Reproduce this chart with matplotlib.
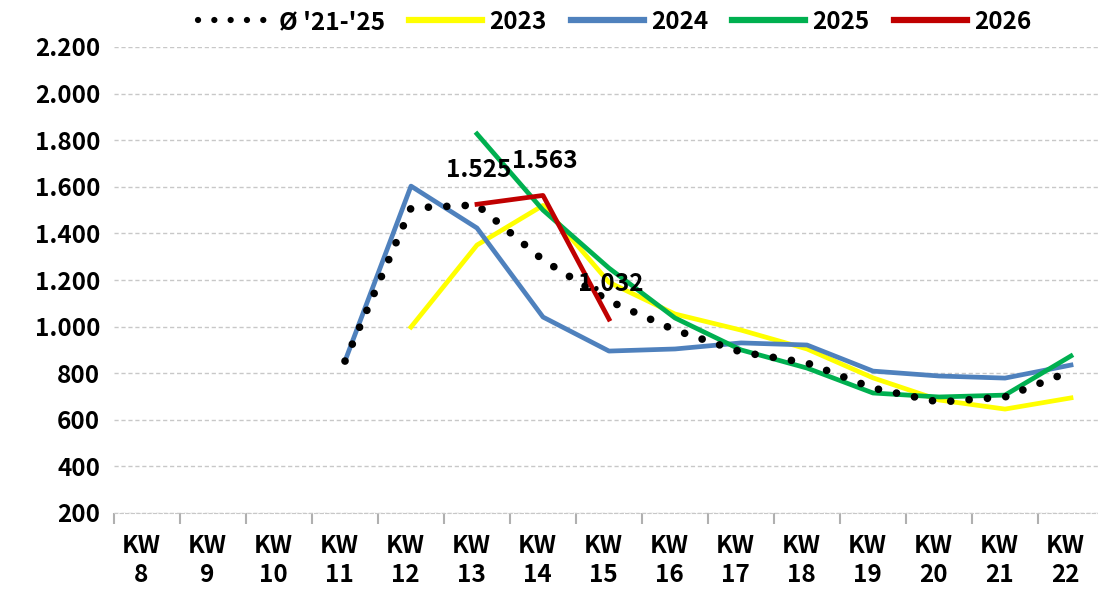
import numpy as np
import matplotlib.pyplot as plt
import matplotlib.transforms as mtransforms

plt.rcParams['font.family'] = ['Noto Sans CJK KR', 'DejaVu Sans']
plt.rcParams['font.weight'] = 'bold'

weeks = ['KW\n8', 'KW\n9', 'KW\n10', 'KW\n11', 'KW\n12', 'KW\n13', 'KW\n14', 'KW\n15',
         'KW\n16', 'KW\n17', 'KW\n18', 'KW\n19', 'KW\n20', 'KW\n21', 'KW\n22']

nan = np.nan
avg_21_25 = [nan, nan, nan, 852, 1509, 1522, 1286, 1110, 985, 891, 844, 736, 676, 698, 809]
y2023 = [nan, nan, nan, nan, 998, 1350, 1520, 1190, 1054, 985, 904, 780, 685, 646, 694]
y2024 = [nan, nan, nan, 852, 1603, 1423, 1041, 895, 904, 930, 921, 809, 788, 779, 835]
y2025 = [nan, nan, nan, nan, nan, 1827, 1500, 1251, 1037, 900, 822, 715, 698, 706, 874]
y2026 = [nan, nan, nan, nan, nan, 1525, 1563, 1032, nan, nan, nan, nan, nan, nan, nan]
label_2026 = ['1.525', '1.563', '1.032']

x = np.arange(len(weeks))
fs = 17.5

fig = plt.figure(figsize=(10.98, 5.89), dpi=100)
ax = fig.add_axes([114 / 1098, 76 / 589, 990 / 1098, 466 / 589])

ax.plot(x, avg_21_25, color='black', lw=5.5, linestyle=(0, (0.01, 2.4)),
        dash_capstyle='round', label="Ø '21-'25", zorder=3)
ax.plot(x, y2023, color='#ffff00', lw=3.4, label='2023', zorder=2)
ax.plot(x, y2024, color='#4f81bd', lw=3.4, label='2024', zorder=2)
ax.plot(x, y2025, color='#00b050', lw=3.4, label='2025', zorder=2)
ax.plot(x, y2026, color='#c00000', lw=3.4, label='2026', zorder=4)

# data labels for 2026
for xi, v, t in zip(x[5:8], y2026[5:8], label_2026):
    ax.annotate(t, (xi, v), xytext=(1, 25), textcoords='offset points',
                ha='center', va='center', fontsize=fs, fontweight='bold', zorder=5)

ax.set_xlim(-0.5, 14.5)
ax.set_ylim(200, 2200)
ax.set_yticks(np.arange(200, 2201, 200))
ax.set_yticklabels([f'{v:,}'.replace(',', '.') for v in range(200, 2201, 200)],
                   fontsize=fs, fontweight='bold')
ax.yaxis.grid(True, color='#c8c8c8', linestyle=(0, (3, 2)), lw=1)
ax.set_axisbelow(True)
ax.tick_params(axis='y', length=0, pad=10)

ax.set_xticks(x)
ax.set_xticklabels(weeks, fontsize=fs, fontweight='bold', linespacing=1.25)
ax.tick_params(axis='x', length=0, pad=15)
shift = mtransforms.ScaledTranslation(-6 / 100, 0, fig.dpi_scale_trans)
for lab in ax.get_xticklabels():
    lab.set_transform(lab.get_transform() + shift)
# category boundary ticks
ax.set_xticks(np.arange(-0.5, 15, 1), minor=True)
ax.tick_params(axis='x', which='minor', length=8, color='#b0b0b0', width=1.5)

for s in ['top', 'right', 'left']:
    ax.spines[s].set_visible(False)
ax.spines['bottom'].set_color('#c8c8c8')
ax.spines['bottom'].set_linestyle((0, (3, 2)))

leg = fig.legend(loc='center', bbox_to_anchor=(615 / 1098, 1 - 22 / 589), ncol=5,
                 frameon=False, fontsize=fs, handlelength=3.0, columnspacing=1.0,
                 handletextpad=0.3)
for t in leg.get_texts():
    t.set_fontweight('bold')
handles = leg.get_lines()
handles[0].set_linewidth(4.5)
handles[0].set_linestyle((0, (0.01, 2.6)))
for h in handles[1:]:
    h.set_linewidth(4.5)

fig.savefig('out.png', dpi=100)
